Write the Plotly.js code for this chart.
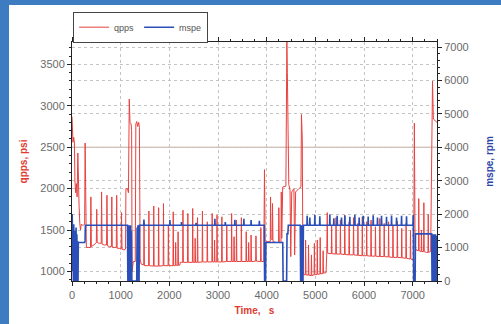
<!DOCTYPE html>
<html>
<head>
<meta charset="utf-8">
<script src="https://cdn.plot.ly/plotly-3.0.1.min.js"></script>
<style>
html,body{margin:0;padding:0;background:#fff;}
#chart{width:501px;height:324px;position:absolute;left:0;top:0;}
.bl{position:absolute;background:#3d7cc0;z-index:10;}
</style>
</head>
<body>
<div id="chart"></div>
<div class="bl" style="left:0;top:0;width:9px;height:324px;"></div>
<div class="bl" style="left:0;top:0;width:501px;height:5px;"></div>
<script>
// qpps (psi)
const qppsTime = [
  0,10,20,35,50,60,75,90,105,120,130,145,160,175,190,210,235,260,270,280,295,
  330,380,388,398,450,500,508,518,560,600,608,618,660,710,718,728,770,810,818,828,870,910,918,928,970,1010,1018,1028,1070,1100,1108,1140,
  1160,1177,1192,1215,1225,1235,1260,1300,1312,1330,1350,1370,1385,1400,1420,
  1474,1480,1488,1574,1580,1588,1674,1680,1688,1774,1780,1788,1874,1880,1888,1974,1980,1988,2074,2080,2088,2124,2130,2138,2174,2180,2188,2215,2225,
  2274,2280,2288,2374,2380,2388,2474,2480,2488,2524,2530,2538,2574,2580,2588,2674,2680,2688,2774,2780,2788,2874,2880,2888,2924,2930,2938,2974,2980,2988,
  3074,3080,3088,3174,3180,3188,3274,3280,3288,3324,3330,3338,3374,3380,3388,3474,3480,3488,3574,3580,3588,3624,3630,3638,3674,3680,3688,3774,3780,3788,3874,3880,3888,3940,
  3955,3970,4000,4074,4080,4090,4114,4120,4130,4200,4244,4250,4260,4294,4300,4310,4330,4395,4415,4425,4440,4455,4480,4495,4515,4560,4575,4595,4660,4705,4715,4732,4745,
  4770,4794,4800,4808,4854,4860,4868,4914,4920,4928,4974,4980,4988,5034,5040,5048,5094,5100,5108,5154,5160,5168,5220,5235,
  5245,5253,5329,5335,5343,5419,5425,5433,5509,5515,5523,5599,5605,5613,5689,5695,5703,5779,5785,5793,5869,5875,5883,5959,5965,5973,
  6049,6055,6063,6139,6145,6153,6229,6235,6243,6319,6325,6333,6409,6415,6423,6499,6505,6513,6589,6595,6603,6679,6685,6693,6769,6775,6783,6859,6865,6873,6949,6955,6963,7020,
  7035,7050,7070,7119,7125,7133,7175,7180,7188,7224,7230,7238,7280,7314,7320,7328,7370,7385,7398,7408,7425,7500
];
const qppsValue = [
  2870,2600,2560,2620,2550,2100,1950,2060,1900,2430,1960,1800,1580,1500,1570,1560,1560,1570,2550,1600,1290,
  1290,1290,1900,1300,1320,1350,1750,1350,1340,1340,1960,1330,1320,1320,1920,1310,1300,1300,1900,1290,1290,1290,1920,1280,1280,1270,1710,1270,1260,1270,2000,2000,
  1950,3080,2800,2780,2700,1000,1120,1120,2780,2810,2750,2800,2740,1150,1090,
  1080,1590,1070,1070,1730,1070,1065,1790,1065,1065,1770,1065,1070,1820,1070,1070,1560,1070,1070,1720,1070,1070,1350,1075,1075,1480,1075,1075,1110,
  1110,1740,1110,1110,1700,1110,1110,1760,1110,1110,1400,1110,1110,1650,1110,1115,1730,1115,1115,1600,1115,1115,1700,1115,1115,1380,1115,1115,1680,1115,
  1115,1660,1115,1120,1560,1120,1120,1700,1120,1120,1420,1120,1120,1620,1120,1120,1650,1120,1120,1480,1120,1120,1350,1120,1120,1440,1120,1125,1430,1125,1120,1530,1120,1120,
  2230,1370,1360,1360,1900,1400,1380,1820,1360,1350,1350,1770,1350,1350,1960,1400,2020,2030,3780,3400,2700,2050,1980,1180,1960,2000,1200,1960,2000,2020,2895,2600,1000,
  960,960,1380,960,955,1320,955,950,1200,950,960,1340,960,965,1380,965,970,1410,970,975,1250,980,985,1220,
  1710,1220,1215,1560,1215,1210,1650,1210,1210,1620,1210,1205,1680,1205,1200,1600,1200,1200,1650,1200,1195,1580,1195,1190,1660,1190,
  1190,1600,1190,1185,1620,1185,1185,1540,1185,1180,1640,1180,1180,1580,1180,1175,1600,1175,1170,1560,1170,1170,1610,1170,1165,1520,1165,1160,1580,1160,1150,1500,1150,1140,
  2790,1300,1260,1250,1880,1250,1240,1500,1240,1240,1830,1240,1230,1230,1690,1230,1240,2000,2150,3300,2840,2800
];
// mspe (rpm)
const mspeTime = [
  0,5,12,20,28,36,44,52,60,68,76,84,92,100,108,116,124,130,260,268,275,
  1140,1148,1156,1164,1172,1180,1188,1196,1204,1212,1220,1230,1330,1338,1346,1354,1362,1370,1378,1386,1395,
  1473,1478,1483,2007,2012,2017,2245,2250,2255,2545,2550,2555,2931,2936,2941,3145,3150,3155,3342,3347,3352,3527,3532,3537,3675,3680,3685,3845,3850,3855,
  3950,3958,3977,3985,4330,4338,4410,4418,4435,4445,4500,4508,4690,4698,4706,4714,4722,4730,4738,4746,4755,
  4827,4832,4837,4882,4887,4892,4985,4990,4995,5087,5092,5097,5293,5298,5303,5375,5380,5385,5444,5449,5454,5533,5538,5543,5601,5606,5611,
  5704,5709,5714,5807,5812,5817,5896,5901,5906,5978,5983,5988,6081,6086,6091,6184,6189,6194,6273,6278,6283,6355,6360,6365,6458,6463,6468,
  6561,6566,6571,6664,6669,6674,6767,6772,6777,6869,6874,6879,7005,7012,7020,7050,7058,
  7390,7398,7406,7414,7422,7430,7438,7446,7454,7462,7470,7478,7486,7494,7500
];
const mspeValue = [
  1900,2000,300,1600,0,1700,100,1500,0,1300,200,1600,0,1400,100,1200,0,1150,1150,1200,1670,
  1670,0,1650,0,1670,0,1600,0,1670,0,1500,0,0,1600,0,1670,0,1650,0,1670,1670,
  1670,1840,1670,1670,1820,1670,1670,1760,1670,1670,1740,1670,1670,1860,1670,1670,1760,1670,1670,1830,1670,1670,1860,1670,1670,1820,1670,1670,1800,1670,
  1670,0,0,1150,1150,0,0,1410,1410,1670,1670,1670,1670,0,1650,0,1670,0,1600,0,1670,
  1670,1950,1670,1670,1900,1670,1670,1980,1670,1670,1940,1670,1670,1990,1670,1670,1880,1670,1670,1950,1670,1670,1900,1670,1670,1960,1670,
  1670,1920,1670,1670,1980,1670,1670,1900,1670,1670,1950,1670,1670,1930,1670,1670,1970,1670,1670,1900,1670,1670,1950,1670,1670,1920,1670,
  1670,1960,1670,1670,1900,1670,1670,1950,1670,1670,1940,1670,1670,1980,0,0,1410,
  1410,0,1400,0,1380,0,1400,0,1300,0,1400,0,1350,0,1200
];

const red = '#e8423f', blue = '#2b4fb8';
const tickFont = {family: 'Liberation Sans, Arial, sans-serif', size: 11, color: '#6a6a6a'};
const gridCol = '#c4c4c4';

const traces = [
  {x: qppsTime, y: qppsValue, name: 'qpps', type: 'scatter', mode: 'lines',
   line: {color: red, width: 1}, yaxis: 'y'},
  {x: mspeTime, y: mspeValue, name: 'mspe', type: 'scatter', mode: 'lines',
   line: {color: blue, width: 1.6}, yaxis: 'y2'}
];

const layout = {
  width: 501, height: 324,
  margin: {l: 72, r: 64, t: 33, b: 43},
  paper_bgcolor: '#ffffff', plot_bgcolor: '#ffffff',
  font: {family: 'Liberation Sans, Arial, sans-serif', color: '#6a6a6a'},
  showlegend: true,
  legend: {orientation: 'h', x: 0.003, xanchor: 'left', y: 1.062, yanchor: 'middle',
           bordercolor: '#444', borderwidth: 1, bgcolor: '#fff',
           font: {size: 9, color: '#555'}, itemwidth: 30, tracegroupgap: 0},
  xaxis: {range: [0, 7500], tick0: 0, dtick: 1000, showgrid: true, gridcolor: gridCol, griddash: 'dot', gridwidth: 1,
          zeroline: false, showline: true, linecolor: '#222', linewidth: 1, mirror: 'ticks',
          ticks: 'outside', ticklen: 4, tickcolor: '#222',
          minor: {dtick: 250, ticks: 'outside', ticklen: 2, tickcolor: '#222', showgrid: false},
          tickfont: tickFont,
          title: {text: '<b>Time,&nbsp;&nbsp; s</b>', font: {size: 10, color: '#e03a30'}, standoff: 6}},
  yaxis: {range: [885, 3770], tick0: 1000, dtick: 500, showgrid: true, gridcolor: gridCol, griddash: 'dot',
          zeroline: false, showline: true, linecolor: '#222', linewidth: 1,
          ticks: 'outside', ticklen: 4, tickcolor: '#222',
          minor: {dtick: 100, ticks: 'outside', ticklen: 2, tickcolor: '#222', showgrid: false},
          tickfont: tickFont,
          title: {text: '<b>qpps, psi</b>', font: {size: 10, color: '#e03a30'}, standoff: 10}},
  yaxis2: {range: [0, 7150], tick0: 0, dtick: 1000, overlaying: 'y', side: 'right',
           showgrid: true, gridcolor: gridCol, griddash: 'dot',
           zeroline: false, showline: true, linecolor: '#222', linewidth: 1,
           ticks: 'outside', ticklen: 4, tickcolor: '#222',
           minor: {dtick: 200, ticks: 'outside', ticklen: 2, tickcolor: '#222', showgrid: false},
           tickfont: tickFont,
           title: {text: '<b>mspe, rpm</b>', font: {size: 10, color: '#2a44a8'}, standoff: 18}},
  shapes: [{type: 'line', xref: 'paper', x0: 0, x1: 1, yref: 'y', y0: 2500, y1: 2500,
            line: {color: '#c9aa9c', width: 1}, layer: 'below'}]
};

Plotly.newPlot('chart', traces, layout, {displayModeBar: false, staticPlot: true});
</script>
</body>
</html>
